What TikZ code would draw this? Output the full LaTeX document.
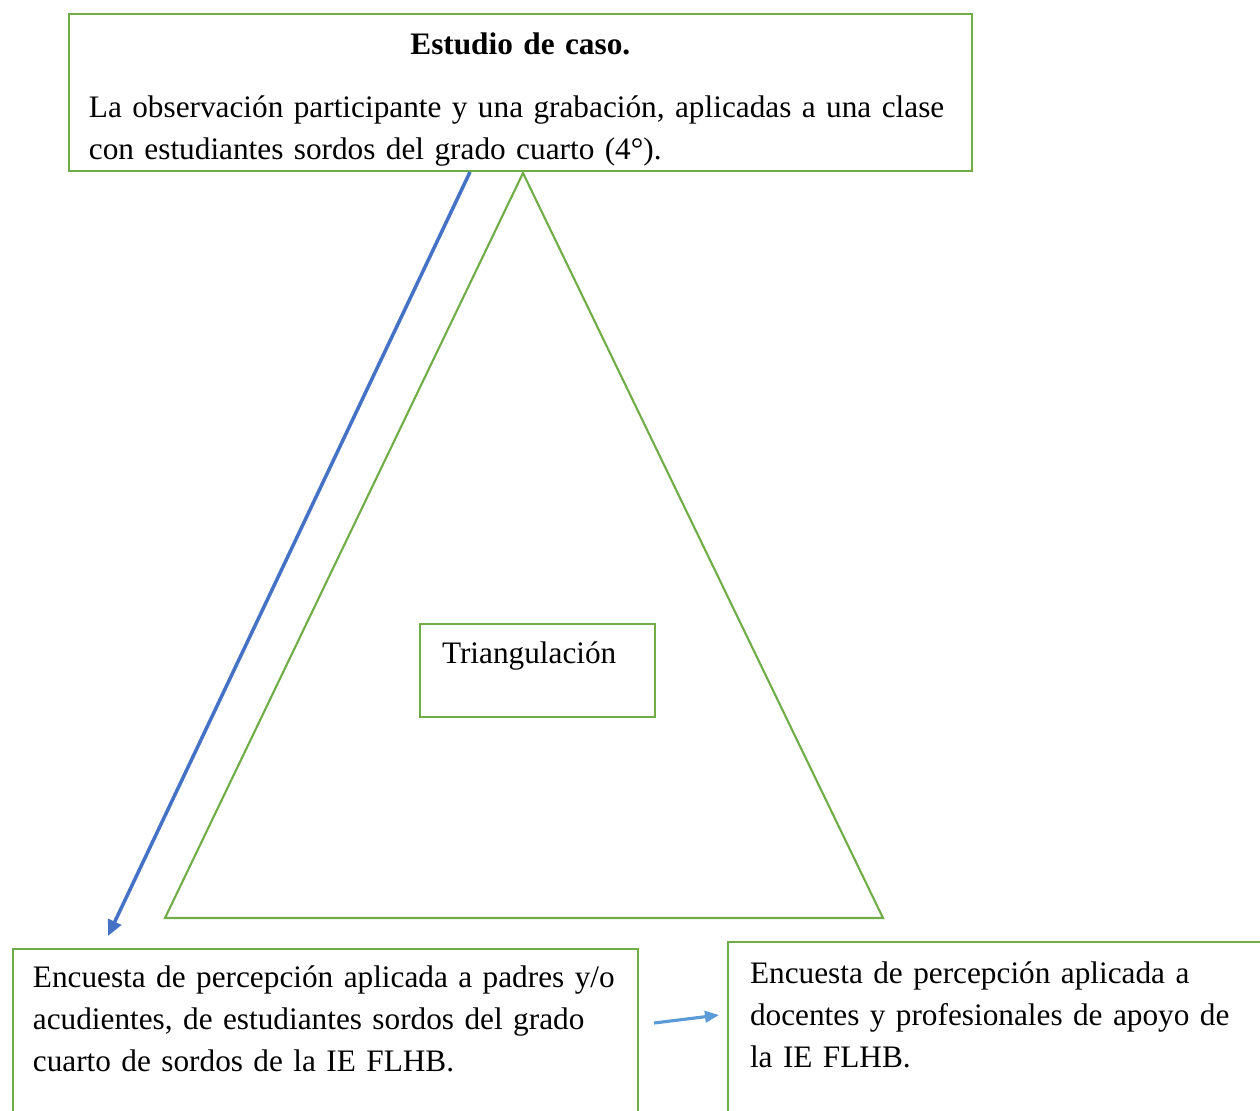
\documentclass[tikz,border=0pt]{standalone}
\usepackage{fontspec}
\setmainfont{Liberation Serif}
\usetikzlibrary{arrows.meta}
\definecolor{verde}{HTML}{70AD47}
\definecolor{azul}{HTML}{4472C4}
\definecolor{celeste}{HTML}{5B9BD5}
\tikzset{
  caja/.style={draw=verde, line width=1.2pt, anchor=north west, align=left,
    inner ysep=0pt, inner xsep=11.3pt, font=\fontsize{17.8}{23.8}\selectfont},
}

\begin{document}
\begin{tikzpicture}[x=0.02cm,y=-0.02cm]
\useasboundingbox (0,0) rectangle (1260,1110);
\clip (0,0) rectangle (1260,1110);

\node[caja, text width=17.26cm, text height=23.2pt, text depth=66.3pt] (caso) at (68,13)
  {\makebox[\linewidth][c]{\bfseries Estudio de caso.}\\[11.9pt]
   \mbox{La observación participante y una grabación, aplicadas a una clase}\\
   \mbox{con estudiantes sordos del grado cuarto (4°).}};

\coordinate (v1) at (523,173);
\coordinate (v2) at (165,918);
\coordinate (v3) at (883,918);
\draw[verde, line width=1.2pt, line join=miter] (v1) -- (v2) -- (v3) -- cycle;

\node[caja, inner xsep=12.5pt, text width=3.82cm, text height=22.7pt, text depth=30pt] (tri) at (419,623)
  {Triangulación};

\node[caja, text width=11.7cm, text height=22.1pt, text depth=113pt] (padres) at (12,948)
  {\mbox{Encuesta de percepción aplicada a padres y/o}\\
   \mbox{acudientes, de estudiantes sordos del grado}\\
   \mbox{cuarto de sordos de la IE FLHB.}};

\node[caja, inner xsep=12.5pt, text width=12cm, text height=23.8pt, text depth=113pt] (docentes) at (727,941)
  {\mbox{Encuesta de percepción aplicada a}\\
   \mbox{docentes y profesionales de apoyo de}\\
   \mbox{la IE FLHB.}};

\coordinate (a1) at (470,172);
\coordinate (a2) at (108,936);
\draw[-{Triangle[length=9pt,width=8pt]}, azul, line width=2pt] (a1) -- (a2);

\coordinate (b1) at (654,1023);
\coordinate (b2) at (719,1015);
\draw[-{Triangle[length=8pt,width=6.5pt]}, celeste, line width=1.8pt] (b1) -- (b2);
\end{tikzpicture}
\end{document}
